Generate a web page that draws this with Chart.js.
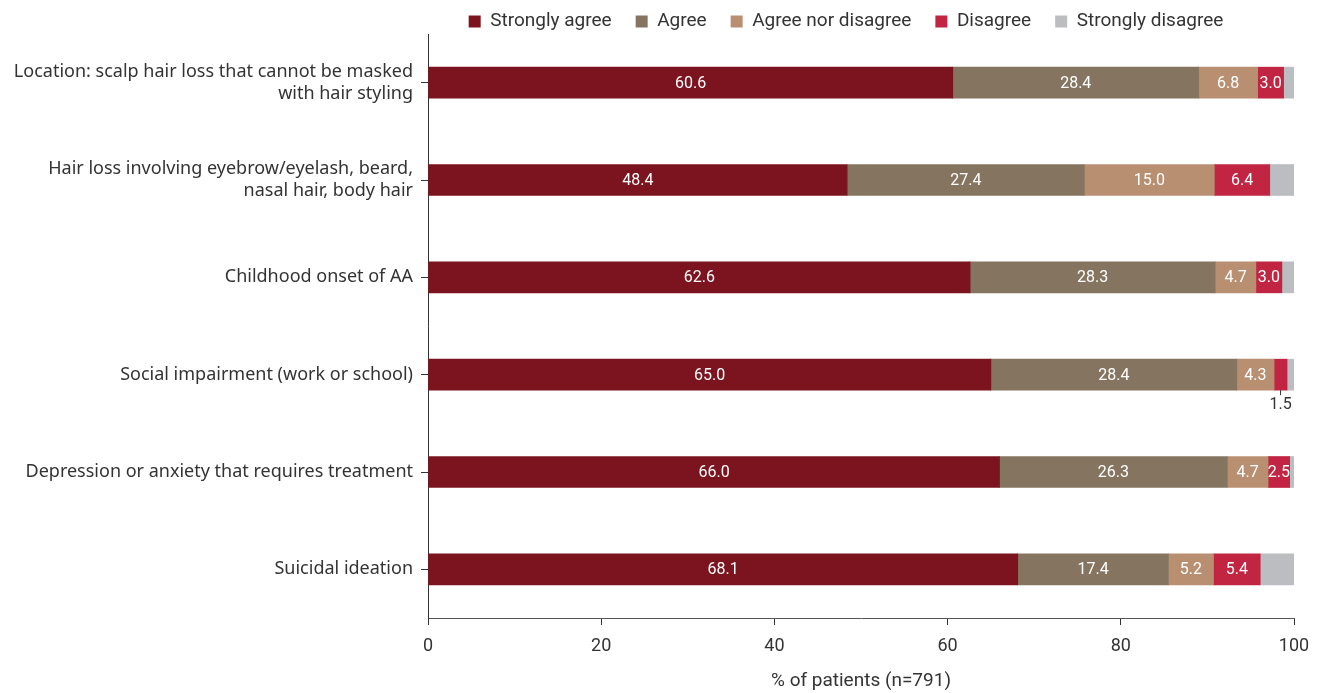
<!DOCTYPE html>
<html>
<head>
<meta charset="utf-8">
<script src="https://cdn.jsdelivr.net/npm/chart.js@4"></script>
<style>
  html, body { margin: 0; padding: 0; background: #fff; }
  #wrap { width: 1322px; height: 693px; }
</style>
</head>
<body>
<div id="wrap"><canvas id="canvas"></canvas></div>
<script>
// Row labels (top to bottom)
const items = [
  ['Location: scalp hair loss that cannot be masked', 'with hair styling'],
  ['Hair loss involving eyebrow/eyelash, beard,', 'nasal hair, body hair'],
  'Childhood onset of AA',
  'Social impairment (work or school)',
  'Depression or anxiety that requires treatment',
  'Suicidal ideation'
];
// % of patients per answer
const stronglyAgree = [60.6, 48.4, 62.6, 65.0, 66.0, 68.1];
const agree = [28.4, 27.4, 28.3, 28.4, 26.3, 17.4];
const neither = [6.8, 15.0, 4.7, 4.3, 4.7, 5.2];
const disagree = [3.0, 6.4, 3.0, 1.5, 2.5, 5.4];
const stronglyDisagree = [1.2, 2.8, 1.4, 0.8, 0.5, 3.9];
const xTicks = [0, 20, 40, 60, 80, 100];

const font = 'Roboto';

// value labels inside the bars, small ones below the bar
const valueLabels = {
  id: 'valueLabels',
  afterDatasetsDraw(chart) {
    const ctx = chart.ctx;
    ctx.save();
    ctx.font = '16px ' + font;
    ctx.textAlign = 'center';
    chart.data.datasets.forEach((ds, i) => {
      if (ds.label === 'Strongly disagree') return;
      chart.getDatasetMeta(i).data.forEach((bar, j) => {
        const v = ds.data[j];
        const cx = (bar.x + bar.base) / 2;
        if (v < 2) {
          ctx.strokeStyle = '#333';
          ctx.lineWidth = 1;
          ctx.beginPath();
          ctx.moveTo(cx, bar.y + bar.height / 2);
          ctx.lineTo(cx, bar.y + bar.height / 2 + 5);
          ctx.stroke();
          ctx.fillStyle = '#333';
          ctx.textBaseline = 'top';
          ctx.fillText(v.toFixed(1), cx, bar.y + bar.height / 2 + 7);
        } else {
          ctx.fillStyle = '#fff';
          ctx.textBaseline = 'middle';
          ctx.fillText(v.toFixed(1), cx, bar.y + 1);
        }
      });
    });
    ctx.restore();
  }
};

// keep the legend short and move it over the plot area
const legendShift = {
  id: 'legendShift',
  beforeLayout(chart) {
    const lg = chart.legend;
    if (lg && !lg._short) {
      const fit = lg.fit;
      lg.fit = function () { fit.call(this); this.height = 32; };
      lg._short = true;
    }
  },
  afterLayout(chart) {
    const lg = chart.legend;
    lg.left += 199;
    lg.right += 199;
    lg.top = -12;
  }
};

const ctx = document.getElementById('canvas');
const chart = new Chart(ctx, {
  type: 'bar',
  data: {
    labels: items,
    datasets: [
      { label: 'Strongly agree', data: stronglyAgree, backgroundColor: '#7b141e' },
      { label: 'Agree', data: agree, backgroundColor: '#857560' },
      { label: 'Agree nor disagree', data: neither, backgroundColor: '#b98f72' },
      { label: 'Disagree', data: disagree, backgroundColor: '#c12541' },
      { label: 'Strongly disagree', data: stronglyDisagree, backgroundColor: '#bcbdc1' }
    ]
  },
  options: {
    indexAxis: 'y',
    responsive: true,
    maintainAspectRatio: false,
    animation: false,
    layout: { padding: { left: 0, right: 28, top: 2, bottom: 0 } },
    datasets: { bar: { barThickness: 31, borderWidth: 0 } },
    plugins: {
      legend: {
        position: 'top',
        labels: {
          boxWidth: 12,
          boxHeight: 12,
          padding: 24,
          color: '#333',
          font: { family: font, size: 19 }
        }
      },
      tooltip: { enabled: false }
    },
    scales: {
      x: {
        stacked: true,
        min: 0,
        max: 100,
        afterBuildTicks(scale) {
          scale.ticks = xTicks.map(v => ({ value: v }));
        },
        afterFit(scale) { scale.height = 75; },
        grid: { drawOnChartArea: false, drawTicks: true, tickLength: 7, color: '#333' },
        border: { color: '#555', width: 1 },
        ticks: { color: '#333', padding: 11, font: { family: font, size: 18 } },
        title: {
          display: true,
          text: '% of patients (n=791)',
          color: '#333',
          font: { family: font, size: 19 },
          padding: { top: 6, bottom: 0 }
        }
      },
      y: {
        stacked: true,
        afterFit(scale) { scale.width = 428; },
        grid: { drawOnChartArea: false, drawTicks: true, tickLength: 7, offset: false, color: '#333' },
        border: { color: '#333', width: 1 },
        ticks: { color: '#333', padding: 8, font: { family: 'Noto Sans', size: 18 } }
      }
    }
  },
  plugins: [valueLabels, legendShift]
});
</script>
</body>
</html>
